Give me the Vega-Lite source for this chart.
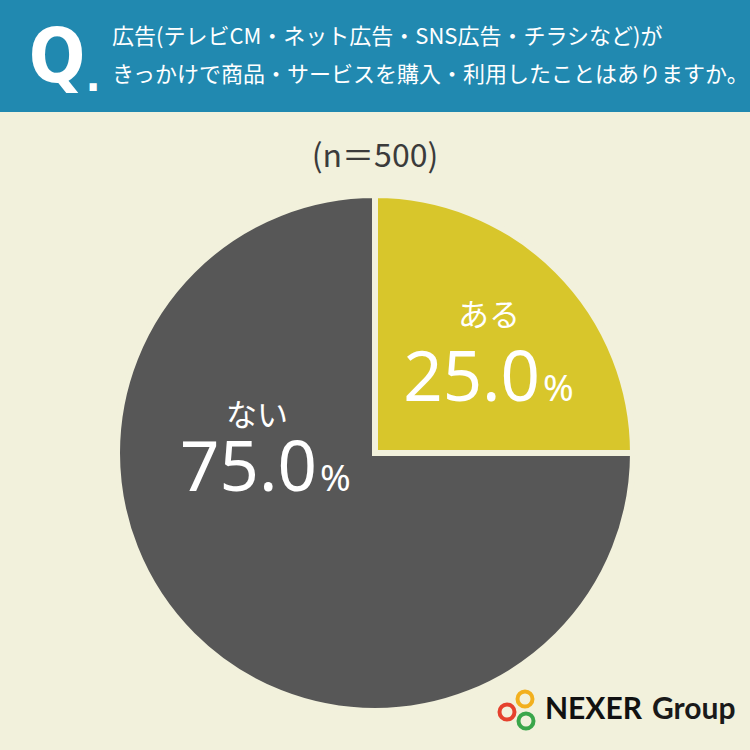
{
  "$schema": "https://vega.github.io/schema/vega-lite/v6.json",
  "background": "#f2f1dc",
  "padding": {"left": 0, "right": 0, "top": 0, "bottom": 16},
  "spacing": 0,
  "config": {"view": {"stroke": null}, "concat": {"spacing": 0}},
  "datasets": {
    "answers": [
      {"answer": "ある", "value": 25.0, "order": 1},
      {"answer": "ない", "value": 75.0, "order": 2}
    ],
    "question": [
      {"n": 1, "line": "広告(テレビCM・ネット広告・SNS広告・チラシなど)が"},
      {"n": 2, "line": "きっかけで商品・サービスを購入・利用したことはありますか。"}
    ],
    "logo": [
      {"part": "NEXER"},
      {"part": "Group"}
    ],
    "rings": [
      {"ring": "orange"},
      {"ring": "red"},
      {"ring": "green"}
    ]
  },
  "vconcat": [
    {
      "width": 750,
      "height": 112,
      "view": {"fill": "#2189b0", "stroke": null},
      "title": {
        "text": "(n＝500)",
        "orient": "bottom",
        "anchor": "middle",
        "offset": 30,
        "baseline": "top",
        "font": "Noto Sans CJK JP",
        "fontSize": 32,
        "fontWeight": "normal",
        "color": "#3b3b3b"
      },
      "layer": [
        {
          "data": {"name": "question"},
          "mark": {"type": "text", "align": "left", "baseline": "middle", "dx": -263, "font": "Noto Sans CJK JP", "fontSize": 22, "fontWeight": "normal", "color": "white"},
          "encoding": {
            "y": {"field": "line", "type": "nominal", "sort": null, "axis": null, "scale": {"type": "point", "padding": 1.25}},
            "text": {"field": "line"}
          }
        },
        {
          "data": {"values": [{"q": "Q"}]},
          "mark": {"type": "text", "align": "center", "baseline": "alphabetic", "dx": -318, "dy": 26, "font": "DejaVu Sans Condensed", "fontWeight": "bold", "fontSize": 74, "color": "white"},
          "encoding": {"text": {"field": "q"}}
        },
        {
          "data": {"values": [{"q": "."}]},
          "mark": {"type": "text", "align": "center", "baseline": "alphabetic", "dx": -282, "dy": 35, "font": "DejaVu Sans", "fontWeight": "bold", "fontSize": 40, "color": "white"},
          "encoding": {"text": {"field": "q"}}
        }
      ]
    },
    {
      "width": 750,
      "height": 560,
      "layer": [
        {
          "data": {"name": "answers"},
          "mark": {"type": "arc", "outerRadius": 258, "stroke": "#f2f1dc", "strokeWidth": 6},
          "encoding": {
            "theta": {"field": "value", "type": "quantitative", "stack": true, "scale": {"domain": [0, 100]}},
            "order": {"field": "order"},
            "color": {"field": "answer", "type": "nominal", "scale": {"domain": ["ある", "ない"], "range": ["#d8c62b", "#575757"]}, "legend": null}
          }
        },
        {
          "data": {"name": "answers"},
          "mark": {"type": "text", "radius": 150, "align": "center", "baseline": "middle", "dx": 8, "dy": -30, "font": "Noto Sans CJK JP", "fontSize": 31, "color": "white"},
          "encoding": {
            "theta": {"field": "value", "type": "quantitative", "stack": true},
            "order": {"field": "order"},
            "text": {"condition": {"test": "datum.answer === 'ある'", "field": "answer"}, "value": ""}
          }
        },
        {
          "data": {"name": "answers"},
          "mark": {"type": "text", "radius": 150, "align": "right", "baseline": "alphabetic", "dx": 59, "dy": 54, "font": "Noto Sans", "fontSize": 69, "color": "white"},
          "encoding": {
            "theta": {"field": "value", "type": "quantitative", "stack": true},
            "order": {"field": "order"},
            "text": {"condition": {"test": "datum.answer === 'ある'", "field": "value", "type": "quantitative", "format": ".1f"}, "value": ""}
          }
        },
        {
          "data": {"name": "answers"},
          "mark": {"type": "text", "radius": 150, "align": "left", "baseline": "alphabetic", "dx": 62, "dy": 54, "font": "Noto Sans", "fontSize": 37, "color": "white"},
          "encoding": {
            "theta": {"field": "value", "type": "quantitative", "stack": true},
            "order": {"field": "order"},
            "text": {"condition": {"test": "datum.answer === 'ある'", "value": "%"}, "value": ""}
          }
        },
        {
          "data": {"name": "answers"},
          "mark": {"type": "text", "radius": 150, "align": "center", "baseline": "middle", "dx": -12, "dy": -142, "font": "Noto Sans CJK JP", "fontSize": 31, "color": "white"},
          "encoding": {
            "theta": {"field": "value", "type": "quantitative", "stack": true},
            "order": {"field": "order"},
            "text": {"condition": {"test": "datum.answer === 'ない'", "field": "answer"}, "value": ""}
          }
        },
        {
          "data": {"name": "answers"},
          "mark": {"type": "text", "radius": 150, "align": "right", "baseline": "alphabetic", "dx": 48, "dy": -68, "font": "Noto Sans", "fontSize": 69, "color": "white"},
          "encoding": {
            "theta": {"field": "value", "type": "quantitative", "stack": true},
            "order": {"field": "order"},
            "text": {"condition": {"test": "datum.answer === 'ない'", "field": "value", "type": "quantitative", "format": ".1f"}, "value": ""}
          }
        },
        {
          "data": {"name": "answers"},
          "mark": {"type": "text", "radius": 150, "align": "left", "baseline": "alphabetic", "dx": 51, "dy": -68, "font": "Noto Sans", "fontSize": 37, "color": "white"},
          "encoding": {
            "theta": {"field": "value", "type": "quantitative", "stack": true},
            "order": {"field": "order"},
            "text": {"condition": {"test": "datum.answer === 'ない'", "value": "%"}, "value": ""}
          }
        },
        {
          "data": {"name": "logo"},
          "transform": [{"filter": "datum.part === 'NEXER'"}],
          "mark": {"type": "text", "align": "left", "baseline": "alphabetic", "dx": 170, "dy": 266, "font": "Lato", "fontWeight": "bold", "fontSize": 30, "color": "#111111"},
          "encoding": {"text": {"field": "part"}}
        },
        {
          "data": {"name": "logo"},
          "transform": [{"filter": "datum.part === 'Group'"}],
          "mark": {"type": "text", "align": "left", "baseline": "alphabetic", "dx": 277, "dy": 266, "font": "Lato", "fontWeight": "bold", "fontSize": 30, "color": "#1a1a1a"},
          "encoding": {"text": {"field": "part"}}
        },
        {
          "data": {"name": "rings"},
          "transform": [{"filter": "datum.ring === 'orange'"}],
          "mark": {"type": "point", "shape": "circle", "filled": false, "size": 225, "strokeWidth": 4, "opacity": 1, "color": "#f2b01e", "xOffset": 150, "yOffset": 246},
          "encoding": {}
        },
        {
          "data": {"name": "rings"},
          "transform": [{"filter": "datum.ring === 'red'"}],
          "mark": {"type": "point", "shape": "circle", "filled": false, "size": 225, "strokeWidth": 4, "opacity": 1, "color": "#e5412d", "xOffset": 132, "yOffset": 259},
          "encoding": {}
        },
        {
          "data": {"name": "rings"},
          "transform": [{"filter": "datum.ring === 'green'"}],
          "mark": {"type": "point", "shape": "circle", "filled": false, "size": 225, "strokeWidth": 4, "opacity": 1, "color": "#3aa64a", "xOffset": 151, "yOffset": 268},
          "encoding": {}
        }
      ]
    }
  ]
}
